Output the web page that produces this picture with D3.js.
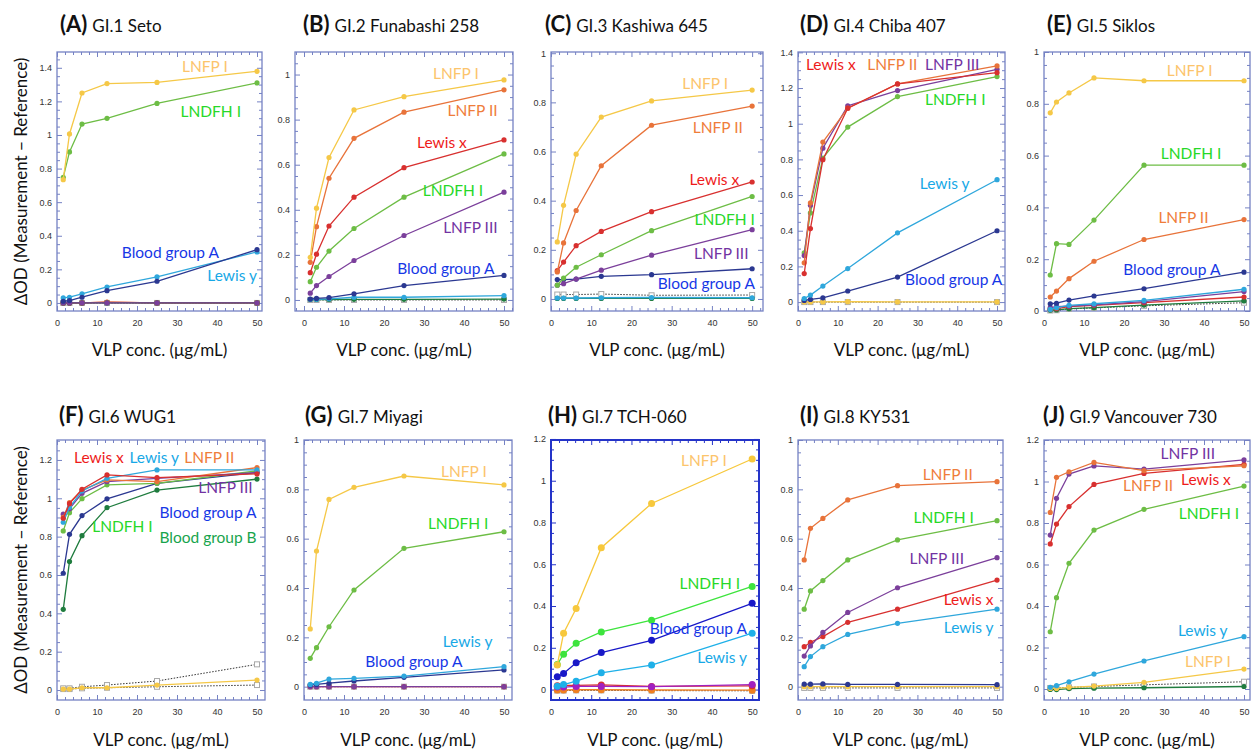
<!DOCTYPE html>
<html lang="en">
<head>
<meta charset="UTF-8">
<title>GI VLP glycan binding</title>
<script src="https://d3js.org/d3.v7.min.js"></script>
<style>
  body { margin: 0; background: #fff; }
  svg text { font-family: Lato, "Open Sans", sans-serif; }
  .tick text { font-family: "Liberation Sans", Arial, sans-serif; font-size: 9px; fill: #333; }
</style>
</head>
<body>
<svg width="1251" height="749"></svg>
<script>
// VLP concentrations (ug/mL) used in every panel
const conc = [1.5625, 3.125, 6.25, 12.5, 25, 50];
const xTicks = [0, 10, 20, 30, 40, 50];

const tags = ["(A)", "(B)", "(C)", "(D)", "(E)", "(F)", "(G)", "(H)", "(I)", "(J)"];
const strains = ["GI.1 Seto", "GI.2 Funabashi 258", "GI.3 Kashiwa 645", "GI.4 Chiba 407", "GI.5 Siklos",
                 "GI.6 WUG1", "GI.7 Miyagi", "GI.7 TCH-060", "GI.8 KY531", "GI.9 Vancouver 730"];
// highest labelled y tick of each panel
const yTops = [1.4, 1, 1, 1.4, 1, 1.2, 1, 1.2, 1, 1.2];

// [glycan, dOD at each conc]
const seriesA = [
  ["ctrl", [0, 0, 0, 0, 0, 0]],
  ["Lewis x", [0, 0, 0, 0.004, 0, 0]],
  ["LNFP II", [0, 0, 0, 0.005, 0, 0]],
  ["Blood group B", [0, 0, 0, 0, 0, 0]],
  ["LNFP III", [0, 0, 0, 0, 0, 0]],
  ["Lewis y", [0.03, 0.034, 0.054, 0.095, 0.155, 0.304]],
  ["Blood group A", [0.01, 0.014, 0.034, 0.073, 0.129, 0.317]],
  ["LNDFH I", [0.748, 0.899, 1.065, 1.099, 1.188, 1.31]],
  ["LNFP I", [0.734, 1.006, 1.25, 1.306, 1.313, 1.379]]
];
const seriesB = [
  ["ctrl", [0, 0, 0, 0, 0, 0]],
  ["Blood group B", [0.002, 0.002, 0.002, 0.003, 0.003, 0.004]],
  ["Lewis y", [0.003, 0.003, 0.005, 0.012, 0.012, 0.019]],
  ["Blood group A", [0.004, 0.007, 0.01, 0.027, 0.064, 0.109]],
  ["LNFP III", [0.03, 0.064, 0.104, 0.175, 0.286, 0.478]],
  ["LNDFH I", [0.081, 0.145, 0.217, 0.317, 0.456, 0.648]],
  ["Lewis x", [0.121, 0.203, 0.328, 0.456, 0.587, 0.71]],
  ["LNFP II", [0.167, 0.325, 0.54, 0.717, 0.833, 0.932]],
  ["LNFP I", [0.189, 0.407, 0.632, 0.843, 0.902, 0.976]]
];
const seriesC = [
  ["ctrl", [0.018, 0.018, 0.018, 0.02, 0.015, 0.016]],
  ["Blood group B", [0.002, 0.002, 0.002, 0.002, 0.002, 0.002]],
  ["Lewis y", [0.004, 0.004, 0.004, 0.005, 0.006, 0.005]],
  ["Blood group A", [0.079, 0.079, 0.081, 0.092, 0.099, 0.123]],
  ["LNFP III", [0.056, 0.062, 0.081, 0.117, 0.178, 0.282]],
  ["LNDFH I", [0.056, 0.085, 0.129, 0.18, 0.278, 0.417]],
  ["Lewis x", [0.115, 0.15, 0.217, 0.275, 0.355, 0.476]],
  ["LNFP II", [0.11, 0.228, 0.36, 0.542, 0.707, 0.785]],
  ["LNFP I", [0.232, 0.381, 0.589, 0.74, 0.806, 0.85]]
];
const seriesD = [
  ["ctrl", [0, 0, 0, 0, 0, 0]],
  ["LNFP I", [0.001, 0.001, 0.001, 0.002, 0.001, 0.001]],
  ["Blood group A", [0.009, 0.015, 0.024, 0.062, 0.14, 0.4]],
  ["Lewis y", [0.02, 0.039, 0.09, 0.188, 0.388, 0.686]],
  ["LNDFH I", [0.276, 0.5, 0.807, 0.981, 1.152, 1.264]],
  ["LNFP III", [0.261, 0.543, 0.863, 1.1, 1.186, 1.305]],
  ["LNFP II", [0.22, 0.556, 0.897, 1.087, 1.223, 1.324]],
  ["Lewis x", [0.16, 0.412, 0.798, 1.087, 1.223, 1.286]]
];
const seriesE = [
  ["ctrl", [0.002, 0.003, 0.008, 0.012, 0.02, 0.032]],
  ["Blood group B", [0.003, 0.004, 0.009, 0.013, 0.023, 0.039]],
  ["Lewis x", [0.006, 0.009, 0.017, 0.022, 0.032, 0.054]],
  ["LNFP III", [0.013, 0.017, 0.019, 0.024, 0.036, 0.075]],
  ["Lewis y", [0.006, 0.013, 0.022, 0.028, 0.041, 0.084]],
  ["Blood group A", [0.028, 0.03, 0.042, 0.058, 0.086, 0.15]],
  ["LNFP II", [0.054, 0.077, 0.125, 0.192, 0.276, 0.353]],
  ["LNDFH I", [0.139, 0.26, 0.257, 0.351, 0.563, 0.563]],
  ["LNFP I", [0.765, 0.807, 0.842, 0.9, 0.889, 0.889]]
];
const seriesF = [
  ["ctrl", [0.005, 0.005, 0.009, 0.012, 0.017, 0.026]],
  ["ctrl", [0.009, 0.009, 0.017, 0.026, 0.047, 0.134]],
  ["LNFP I", [0.005, 0.005, 0.012, 0.012, 0.026, 0.052]],
  ["Blood group B", [0.421, 0.67, 0.805, 0.951, 1.043, 1.1]],
  ["Blood group A", [0.609, 0.812, 0.91, 0.997, 1.078, 1.134]],
  ["LNDFH I", [0.83, 0.925, 0.998, 1.07, 1.078, 1.143]],
  ["LNFP III", [0.917, 0.945, 1.026, 1.087, 1.104, 1.134]],
  ["LNFP II", [0.9, 0.977, 1.043, 1.096, 1.087, 1.16]],
  ["Lewis y", [0.875, 0.953, 1.038, 1.104, 1.148, 1.148]],
  ["Lewis x", [0.896, 0.972, 1.047, 1.122, 1.108, 1.127]]
];
const seriesG = [
  ["ctrl", [0, 0, 0, 0, 0, 0]],
  ["Lewis x", [0, 0, 0, 0, 0, 0]],
  ["LNFP III", [0, 0, 0, 0, 0, 0]],
  ["Blood group A", [0.007, 0.009, 0.014, 0.023, 0.038, 0.068]],
  ["Lewis y", [0.009, 0.014, 0.031, 0.034, 0.043, 0.081]],
  ["LNDFH I", [0.115, 0.158, 0.243, 0.392, 0.561, 0.628]],
  ["LNFP I", [0.234, 0.55, 0.759, 0.808, 0.854, 0.818]]
];
const seriesH = [
  ["ctrl", [-0.005, -0.005, -0.004, -0.004, -0.005, -0.006]],
  ["LNFP II", [-0.002, -0.002, -0.001, -0.001, -0.002, -0.003]],
  ["Lewis x", [0.018, 0.02, 0.02, 0.022, 0.015, 0.018]],
  ["LNFP III", [0.012, 0.012, 0.015, 0.015, 0.014, 0.024]],
  ["Lewis y", [0.016, 0.024, 0.04, 0.08, 0.117, 0.27]],
  ["Blood group A", [0.061, 0.077, 0.128, 0.177, 0.236, 0.413]],
  ["LNDFH I", [0.12, 0.169, 0.222, 0.276, 0.332, 0.494]],
  ["LNFP I", [0.117, 0.27, 0.388, 0.679, 0.891, 1.104]]
];
const seriesI = [
  ["ctrl", [-0.005, -0.005, -0.005, -0.005, -0.005, -0.005]],
  ["LNFP I", [0, 0, 0, 0, 0, 0]],
  ["Blood group A", [0.01, 0.01, 0.011, 0.009, 0.009, 0.008]],
  ["Lewis y", [0.081, 0.122, 0.162, 0.212, 0.257, 0.314]],
  ["Lewis x", [0.162, 0.18, 0.203, 0.261, 0.314, 0.432]],
  ["LNFP III", [0.124, 0.165, 0.22, 0.301, 0.401, 0.523]],
  ["LNDFH I", [0.314, 0.388, 0.43, 0.514, 0.595, 0.673]],
  ["LNFP II", [0.514, 0.642, 0.682, 0.757, 0.815, 0.831]]
];
const seriesJ = [
  ["ctrl", [0.005, 0.005, 0.008, 0.012, 0.02, 0.035]],
  ["Blood group B", [-0.002, -0.003, 0.002, 0.004, 0.006, 0.012]],
  ["LNFP I", [0.003, 0.003, 0.008, 0.014, 0.032, 0.096]],
  ["Lewis y", [0.008, 0.016, 0.035, 0.072, 0.135, 0.252]],
  ["LNDFH I", [0.276, 0.44, 0.606, 0.766, 0.866, 0.978]],
  ["Lewis x", [0.699, 0.795, 0.879, 0.986, 1.039, 1.083]],
  ["LNFP III", [0.742, 0.919, 1.036, 1.075, 1.06, 1.104]],
  ["LNFP II", [0.851, 1.02, 1.047, 1.092, 1.052, 1.076]]
];
const allSeries = [seriesA, seriesB, seriesC, seriesD, seriesE, seriesF, seriesG, seriesH, seriesI, seriesJ];

// where the in-plot names sit, in data units: [name, x, y, anchor]
const labelPos = [
  [["LNFP I", 42.7, 1.375, "end"], ["LNDFH I", 46, 1.107, "end"], ["Blood group A", 40.5, 0.268, "end"], ["Lewis y", 50, 0.131, "end"]],
  [["LNFP I", 43.7, 0.981, "end"], ["LNFP II", 48.4, 0.817, "end"], ["Lewis x", 40.7, 0.676, "end"], ["LNDFH I", 44.8, 0.462, "end"], ["LNFP III", 48.4, 0.299, "end"], ["Blood group A", 47.6, 0.115, "end"]],
  [["LNFP I", 44, 0.856, "end"], ["LNFP II", 47.7, 0.674, "end"], ["Lewis x", 46.8, 0.463, "end"], ["LNDFH I", 50.7, 0.3, "end"], ["LNFP III", 49.1, 0.161, "end"], ["Blood group A", 50.7, 0.039, "end"]],
  [["Lewis x", 2, 1.3, "start"], ["LNFP II", 17.4, 1.3, "start"], ["LNFP III", 31.9, 1.3, "start"], ["LNDFH I", 31.9, 1.106, "start"], ["Lewis y", 30.6, 0.634, "start"], ["Blood group A", 26.9, 0.093, "start"]],
  [["LNFP I", 30.7, 0.909, "start"], ["LNDFH I", 29.2, 0.588, "start"], ["LNFP II", 28.6, 0.338, "start"], ["Blood group A", 19.8, 0.138, "start"]],
  [["Lewis x", 4.25, 1.186, "start"], ["Lewis y", 18.1, 1.186, "start"], ["LNFP II", 31.8, 1.186, "start"], ["LNFP III", 35.3, 1.028, "start"], ["Blood group A", 25.6, 0.895, "start"], ["LNDFH I", 8.8, 0.826, "start"], ["Blood group B", 25.6, 0.765, "start"]],
  [["LNFP I", 45.7, 0.851, "end"], ["LNDFH I", 46.1, 0.638, "end"], ["Lewis y", 47.1, 0.16, "end"], ["Blood group A", 39.6, 0.079, "end"]],
  [["LNFP I", 43.7, 1.071, "end"], ["LNDFH I", 47, 0.481, "end"], ["Blood group A", 48.7, 0.268, "end"], ["Lewis y", 48.7, 0.128, "end"]],
  [["LNFP II", 43.9, 0.838, "end"], ["LNDFH I", 44.2, 0.665, "end"], ["LNFP III", 41.7, 0.496, "end"], ["Lewis x", 49.1, 0.331, "end"], ["Lewis y", 49.1, 0.216, "end"]],
  [["LNFP III", 42.75, 1.107, "end"], ["Lewis x", 46.7, 0.983, "end"], ["LNFP II", 32.3, 0.954, "end"], ["LNDFH I", 48.8, 0.818, "end"], ["Lewis y", 45.9, 0.257, "end"], ["LNFP I", 46.7, 0.107, "end"]]
];

// ---- layout ----
const frames = [ // left, right, x domain min, x domain max
  [57, 262, 0, 51.25], [295, 513, -2.25, 52.25], [551, 763, 0, 52.7], [798, 1005, 0, 52], [1044, 1250, 0, 51.5],
  [57, 265, 0, 52], [304, 512, 0, 52], [551, 759, 0, 51.7], [798, 1003, 0, 51.5], [1044, 1250, 0, 51.5]
];
const yDomains = [[-0.048, 1.494], [-0.049, 1.1], [-0.049, 1.005], [-0.05, 1.402], [0, 1],
                  [-0.052, 1.304], [-0.054, 1.0], [-0.05, 1.195], [-0.054, 1.0], [-0.053, 1.2]];
const rowTop = [52, 440], rowBottom = [311, 700];
const titleX = [60, 303, 545, 800, 1047, 59, 305, 548, 800, 1043];
const titleY = [32, 423];

const lineColor = {
  "LNFP I": "#f5c847", "LNDFH I": "#6dbd45", "LNFP II": "#e8733a", "Lewis x": "#d8302f",
  "LNFP III": "#7b3f9b", "Blood group A": "#2b3891", "Lewis y": "#2fa7dc", "Blood group B": "#1f7c3e", "ctrl": "#333"
};
const textColor = {
  "LNFP I": "#fcc46c", "LNDFH I": "#27d827", "LNFP II": "#ef7d3a", "Lewis x": "#ee1b1b",
  "LNFP III": "#7233a2", "Blood group A": "#1637e6", "Lewis y": "#17a8e6", "Blood group B": "#17a44c"
};
// panel H was drawn with stronger colours
const vivid = { "LNDFH I": "#3de43d", "Blood group A": "#1818c8", "LNFP I": "#f7c83c", "Lewis y": "#1eb0e8", "LNFP III": "#a020c0", "LNFP II": "#f08020" };

const svg = d3.select("svg");
const fmt = d => String(+d.toFixed(1));

allSeries.forEach((series, i) => {
  const row = i < 5 ? 0 : 1;
  const [left, right, xmin, xmax] = frames[i];
  const top = rowTop[row], bottom = rowBottom[row];
  const strong = i === 7;
  const frameColor = strong ? "#2433c8" : "#7582c4";

  const x = d3.scaleLinear().domain([xmin, xmax]).range([left, right]);
  const y = d3.scaleLinear().domain(yDomains[i]).range([bottom, top]);

  const g = svg.append("g");

  // title
  const t = g.append("text").attr("x", titleX[i]).attr("y", titleY[row]).attr("fill", "#111");
  t.append("tspan").text(tags[i]).style("font-weight", "bold").style("font-size", "22px");
  t.append("tspan").attr("dx", 5).text(strains[i]).style("font-size", "17px");

  // ticks
  const xMinor = d3.range(Math.ceil(xmin / 2) * 2, xmax, 2).filter(v => v % 10 !== 0);
  const yMajor = d3.range(0, yTops[i] + 0.001, 0.2).map(v => +v.toFixed(2));
  const yMinor = d3.range(0, yDomains[i][1], 0.05).map(v => +v.toFixed(2)).filter(v => Math.abs(v / 0.2 - Math.round(v / 0.2)) > 0.01);

  const axes = [
    [d3.axisBottom(x).tickValues(xTicks).tickSize(-5).tickPadding(9).tickFormat(d3.format("d")), `translate(0,${bottom})`],
    [d3.axisBottom(x).tickValues(xMinor).tickSize(-3).tickFormat(""), `translate(0,${bottom})`],
    [d3.axisTop(x).tickValues(xTicks).tickSize(-5).tickFormat(""), `translate(0,${top})`],
    [d3.axisTop(x).tickValues(xMinor).tickSize(-3).tickFormat(""), `translate(0,${top})`],
    [d3.axisLeft(y).tickValues(yMajor).tickSize(-5).tickPadding(5).tickFormat(fmt), `translate(${left},0)`],
    [d3.axisLeft(y).tickValues(yMinor).tickSize(-3).tickFormat(""), `translate(${left},0)`],
    [d3.axisRight(y).tickValues(yMajor).tickSize(-5).tickFormat(""), `translate(${right},0)`],
    [d3.axisRight(y).tickValues(yMinor).tickSize(-3).tickFormat(""), `translate(${right},0)`]
  ];
  axes.forEach(([ax, tr]) => {
    const a = g.append("g").attr("transform", tr).call(ax);
    a.select(".domain").remove();
    a.selectAll(".tick line").attr("stroke", frameColor).attr("stroke-width", 1);
  });

  g.append("rect")
    .attr("x", left).attr("y", top)
    .attr("width", right - left).attr("height", bottom - top)
    .attr("fill", "none").attr("stroke", frameColor).attr("stroke-width", strong ? 2 : 1.3);

  // series
  const line = d3.line().x((d, k) => x(conc[k])).y(d => y(d));
  series.forEach(([name, vals]) => {
    const isCtrl = name === "ctrl";
    const col = strong && vivid[name] ? vivid[name] : lineColor[name];
    g.append("path").datum(vals)
      .attr("d", line)
      .attr("fill", "none")
      .attr("stroke", col)
      .attr("stroke-width", isCtrl ? 1 : 1.3)
      .attr("stroke-dasharray", isCtrl ? "1.5,1.5" : null);
    if (isCtrl) {
      g.selectAll(null).data(vals).enter().append("rect")
        .attr("x", (d, k) => x(conc[k]) - 2.5).attr("y", d => y(d) - 2.5)
        .attr("width", 5).attr("height", 5)
        .attr("fill", "#fff").attr("stroke", "#a8a8a8").attr("stroke-width", 1);
    } else {
      g.selectAll(null).data(vals).enter().append("circle")
        .attr("cx", (d, k) => x(conc[k])).attr("cy", d => y(d))
        .attr("r", strong ? 3.5 : 2.6)
        .attr("fill", col);
    }
  });

  // in-plot names
  labelPos[i].forEach(([name, lx, ly, anchor]) => {
    g.append("text")
      .attr("x", x(lx)).attr("y", y(ly))
      .attr("text-anchor", anchor)
      .attr("fill", textColor[name])
      .style("font-size", "15.5px")
      .text(name);
  });

  // x axis title
  g.append("text")
    .attr("x", (left + right) / 2).attr("y", row === 0 ? 356 : 746)
    .attr("text-anchor", "middle").attr("fill", "#111")
    .style("font-size", "17px")
    .text("VLP conc. (\u03bcg/mL)");

  // y axis title on the first column only
  if (i === 0 || i === 5) {
    g.append("text")
      .attr("transform", `translate(27,${(top + bottom) / 2}) rotate(-90)`)
      .attr("text-anchor", "middle").attr("fill", "#111")
      .style("font-size", "17px")
      .text("\u0394OD (Measurement \u2212 Reference)");
  }
});
</script>
</body>
</html>
